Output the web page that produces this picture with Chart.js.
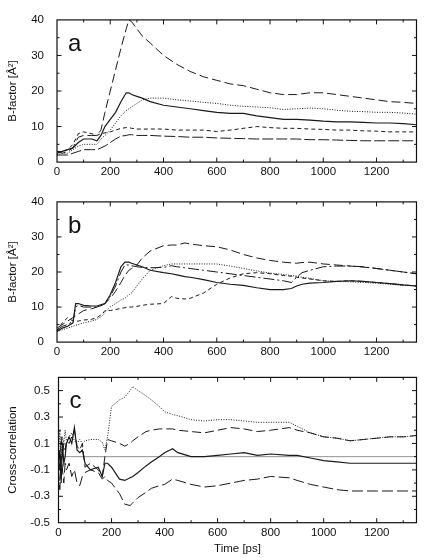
<!DOCTYPE html>
<html>
<head>
<meta charset="utf-8">
<script src="https://cdn.jsdelivr.net/npm/chart.js@4.4.1/dist/chart.umd.min.js"></script>
<style>
	html, body { margin: 0; padding: 0; background: #fff; }
	#wrap { position: relative; width: 426px; height: 558px; }
	canvas { position: absolute; left: 0; }
</style>
</head>
<body>
<div id="wrap">
	<canvas id="panel-a" width="426" height="182" style="top:0px"></canvas>
	<canvas id="panel-b" width="426" height="180" style="top:182px"></canvas>
	<canvas id="panel-c" width="426" height="196" style="top:362px"></canvas>
</div>
<script>
// panel a: B-factor of five atoms
const timeA = [0, 20, 40, 60, 80, 100, 130, 150, 165, 180, 200, 220, 240, 260, 270, 280, 300, 320, 350, 400,
	450, 500, 550, 600, 650, 700, 750, 800, 850, 900, 950, 1000, 1050, 1100, 1150, 1200, 1250, 1300, 1350];
const aLongDash = [3, 2.5, 3, 4, 7, 7.5, 7.5, 7.5, 9, 14, 20, 26, 32, 37.5, 40, 39.5, 37.5, 35.5, 33.5, 30,
	27.5, 25.5, 24, 23, 22, 21.5, 20.5, 19.5, 19, 19, 19.5, 19.5, 19, 18.5, 18, 17.5, 17, 16.8, 16.5];
const aSolid = [2.5, 3, 3.5, 4, 5.5, 6.5, 6.5, 6, 7.5, 10, 12, 14, 17, 19.5, 19.5, 19, 18.5, 18, 17, 16,
	15.5, 15, 14.5, 14, 13.7, 13.7, 13, 12.5, 12, 12, 11.8, 11.5, 11.3, 11.3, 11.2, 11, 11, 10.8, 10.5];
const aDotted = [2, 2.5, 2.5, 3.5, 4.5, 5, 5, 5, 6.5, 7.5, 9, 11, 13, 14.5, 15, 15.5, 16.5, 17.5, 18, 18,
	17.5, 17.2, 16.8, 16.5, 16, 15.7, 15.5, 15.3, 14.8, 15, 15.2, 15, 14.6, 14.3, 14.2, 14, 14, 13.8, 13.5];
const aShortDash = [3, 3, 3.5, 5, 8, 8.5, 8, 7.5, 8, 8.2, 8.5, 9, 9.5, 9.7, 9.7, 9.5, 9.3, 9.3, 9.3, 9.3,
	9, 9, 9, 8.6, 9, 9.5, 10, 9.7, 9.5, 9.5, 9.3, 9.2, 9, 9, 8.8, 8.7, 8.5, 8.5, 8.5];
const aLowDash = [2, 2, 2, 2.5, 3, 3.5, 3.5, 3.5, 4, 4.5, 5.5, 6.5, 7.3, 7.5, 7.7, 7.7, 7.5, 7.5, 7.5, 7.3,
	7.2, 7, 7, 6.8, 6.7, 6.6, 6.5, 6.5, 6.5, 6.5, 6.3, 6.3, 6.2, 6.1, 6, 6, 6, 6, 6];

// panel b
const timeB = [0, 20, 40, 60, 70, 80, 100, 130, 150, 170, 180, 200, 220, 240, 255, 270, 280, 300, 320, 350,
	400, 430, 450, 480, 500, 550, 600, 650, 700, 750, 800, 850, 880, 900, 920, 950, 1000, 1050, 1100, 1150,
	1200, 1250, 1300, 1350];
const bLongDash = [4, 5, 6, 7, 7.5, 8, 9, 9.5, 10, 10.5, 11, 12.5, 14.5, 17, 19, 20.5, 21, 22, 24, 26,
	27.5, 27.7, 27.7, 28.3, 28, 27.5, 27.2, 26.3, 25, 24, 23.3, 22.8, 22.6, 22.5, 22.7, 22.8, 22.3, 22, 21.7, 21.4,
	21, 20.5, 20, 19.5];
const bSolid = [3, 4, 4.5, 5.5, 11, 11, 10.5, 10.3, 10.3, 10.8, 11, 13.5, 17, 21.5, 22.8, 22.8, 22.5, 22, 21.5, 20.5,
	19.8, 19.5, 19.2, 18.7, 18.5, 17.8, 17, 16.5, 16.2, 15.5, 15, 15, 15.3, 16, 16.5, 16.8, 17, 17.3, 17.5, 17.3,
	17, 16.7, 16.3, 16];
const bDotted = [3, 3.5, 4, 4.5, 4.8, 5, 5.5, 6, 6.5, 7.5, 8.5, 10, 11, 12, 12.5, 13.5, 14, 16, 18, 20.5,
	21.8, 22.3, 22.3, 22.3, 22.3, 22.3, 22.3, 21.7, 21, 20.3, 19.7, 19.3, 19, 18.8, 18.5, 18.2, 17.5, 17.3, 17.2, 17,
	16.8, 16.5, 16.2, 16];
const bDashDot = [3.5, 4.5, 5, 6, 10, 10.5, 10, 10, 10, 10.5, 11, 13, 16, 20, 22, 22, 21.8, 21.5, 21.3, 21.2,
	21.3, 21.8, 21.5, 21.2, 21, 20.5, 20, 19.5, 19, 18.5, 18, 17.5, 17, 18.5, 19.8, 20.5, 21.5, 21.7, 21.7, 21.5,
	21, 20.5, 20, 19.5];
const bShortDash = [3, 5.5, 7, 6, 6, 6, 6.3, 6.5, 7, 8, 9, 9, 9.3, 9.6, 9.8, 10, 10, 10.2, 10.5, 10.8,
	11, 13, 12.5, 12.3, 12.5, 14, 16.5, 18.3, 19.5, 19.8, 19.5, 19, 18.8, 18.5, 18.3, 18, 17.5, 17.3, 17.5, 17.3,
	17, 16.7, 16.3, 16];

// panel c: cross-correlation
const timeC = [0, 5, 10, 15, 20, 25, 30, 40, 50, 60, 70, 80, 90, 100, 120, 150, 165, 175, 185, 200,
	230, 250, 270, 280, 300, 330, 350, 380, 400, 430, 450, 500, 550, 600, 650, 700, 750, 800, 870, 900,
	950, 1000, 1050, 1100, 1150, 1200, 1250, 1300, 1350];
const cDotted = [0, 0.2, -0.05, 0.15, 0.1, 0.2, 0.12, 0.15, 0.18, 0.12, 0.1, 0.13, 0.1, 0.12, 0.13, 0.13, 0.11, 0.05, 0.15, 0.38,
	0.43, 0.45, 0.5, 0.53, 0.5, 0.46, 0.43, 0.38, 0.34, 0.32, 0.31, 0.28, 0.27, 0.28, 0.28, 0.27, 0.26, 0.26, 0.26, 0.23,
	0.18, 0.15, 0.14, 0.12, 0.13, 0.14, 0.15, 0.15, 0.16];
const cDashed = [0.05, -0.1, 0.15, 0, 0.1, 0.05, 0.12, 0.1, 0.15, 0.2, 0.08, 0.05, 0.1, -0.08, -0.05, -0.1, -0.15, 0, 0.13, 0.12,
	0.1, 0.08, 0.1, 0.12, 0.15, 0.19, 0.2, 0.21, 0.21, 0.21, 0.2, 0.19, 0.18, 0.2, 0.22, 0.21, 0.19, 0.2, 0.22, 0.2,
	0.18, 0.15, 0.14, 0.12, 0.13, 0.14, 0.15, 0.15, 0.16];
const cSolid = [-0.05, 0.05, -0.2, 0.1, -0.05, 0, 0.1, 0.15, 0.1, 0.22, 0.05, 0.03, 0.05, -0.05, -0.1, -0.08, -0.15, -0.05, -0.05, -0.08,
	-0.17, -0.18, -0.16, -0.15, -0.12, -0.07, -0.04, 0, 0.03, 0.06, 0.03, 0, 0, 0.01, 0.02, 0.03, 0.01, 0.02, 0.01, 0.01,
	-0.01, -0.03, -0.04, -0.05, -0.05, -0.05, -0.05, -0.05, -0.05];
const cLowDash = [-0.1, -0.25, 0, -0.1, -0.2, -0.05, -0.1, -0.05, -0.15, -0.1, -0.2, -0.22, -0.15, -0.12, -0.1, -0.12, -0.17, -0.15, -0.18, -0.2,
	-0.28, -0.36, -0.37, -0.35, -0.31, -0.27, -0.24, -0.22, -0.21, -0.17, -0.18, -0.21, -0.23, -0.22, -0.2, -0.18, -0.17, -0.15, -0.16, -0.18,
	-0.21, -0.23, -0.25, -0.26, -0.26, -0.26, -0.26, -0.26, -0.26];
const zeroTime = [0, 1350];
const zeroLine = [0, 0];

// ticks
const timeTicks = [0, 200, 400, 600, 800, 1000, 1200];
const bfactorTicks = [0, 10, 20, 30, 40];
const corrTicks = [-0.5, -0.3, -0.1, 0.1, 0.3, 0.5];
const panelLetters = ["a", "b", "c"];

Chart.defaults.font.family = "'Liberation Sans', Arial, sans-serif";
Chart.defaults.color = "#111";

const pts = (t, v) => t.map((x, i) => ({ x: x, y: v[i] }));

function line(t, v, dash, width) {
	return {
		data: pts(t, v),
		borderColor: "#1a1a1a",
		borderWidth: width || 1,
		borderDash: dash,
		pointRadius: 0,
		tension: 0,
		fill: false,
	};
}

// frame with inward tics on all four sides, plus the panel letter
const framePlugin = {
	id: "frame",
	afterDatasetsDraw(chart, args, opts) {
		const { ctx, chartArea: a, scales } = chart;
		ctx.save();
		ctx.strokeStyle = "#111";
		ctx.lineWidth = 1.2;
		ctx.strokeRect(a.left, a.top, a.right - a.left, a.bottom - a.top);
		ctx.lineWidth = 1;
		ctx.beginPath();
		const tics = (scale, step, horiz) => {
			const n = Math.round((scale.max - scale.min) / step);
			for (let i = 1; i < n; i++) {
				const v = scale.min + i * step;
				const major = scale.ticks.some((t) => Math.abs(t.value - v) < step / 10);
				const len = major ? 4.5 : 2.5;
				const p = scale.getPixelForValue(v);
				if (horiz) {
					ctx.moveTo(p, a.bottom); ctx.lineTo(p, a.bottom - len);
					ctx.moveTo(p, a.top); ctx.lineTo(p, a.top + len);
				} else {
					ctx.moveTo(a.left, p); ctx.lineTo(a.left + len, p);
					ctx.moveTo(a.right, p); ctx.lineTo(a.right - len, p);
				}
			}
		};
		tics(scales.x, opts.xStep, true);
		tics(scales.y, opts.yStep, false);
		ctx.stroke();
		ctx.fillStyle = "#111";
		ctx.font = "24px 'Liberation Sans', Arial, sans-serif";
		ctx.textBaseline = "alphabetic";
		ctx.fillText(opts.letter, a.left + 11, a.top + 31);
		ctx.restore();
	},
};

function makePanel(id, datasets, cfg) {
	return new Chart(document.getElementById(id), {
		type: "line",
		data: { datasets: datasets },
		plugins: [framePlugin],
		options: {
			responsive: false,
			animation: false,
			devicePixelRatio: 1,
			layout: { padding: { top: cfg.top, right: 9.5, left: 0, bottom: 0 } },
			plugins: {
				legend: { display: false },
				tooltip: { enabled: false },
				frame: { xStep: 100, yStep: cfg.yStep, letter: cfg.letter },
			},
			scales: {
				x: {
					type: "linear",
					min: 0,
					max: 1350,
					grid: { display: false, drawTicks: false },
					border: { display: false },
					afterBuildTicks: (s) => { s.ticks = timeTicks.map((v) => ({ value: v })); },
					afterFit: (s) => { s.height = cfg.xHeight; },
					ticks: {
						padding: 3,
						maxRotation: 0,
						font: { size: 11.5 },
						callback: (v) => String(v),
					},
					title: cfg.xTitle
						? { display: true, text: cfg.xTitle, font: { size: 11.5 }, padding: { top: 0, bottom: 2 } }
						: { display: false },
				},
				y: {
					type: "linear",
					min: cfg.yMin,
					max: cfg.yMax,
					grid: { display: false, drawTicks: false },
					border: { display: false },
					afterBuildTicks: (s) => { s.ticks = cfg.yTicks.map((v) => ({ value: v })); },
					afterFit: (s) => { s.width = cfg.left; },
					ticks: {
						padding: cfg.yPad,
						font: { size: 11.5 },
						callback: (v) => String(v),
					},
					title: { display: true, text: cfg.yTitle, font: { size: 11.5 }, padding: { top: 6, bottom: 0 } },
				},
			},
		},
	});
}

makePanel("panel-a", [
	line(timeA, aLongDash, [9, 4]),
	line(timeA, aSolid, [], 1.2),
	line(timeA, aDotted, [1, 1.5]),
	line(timeA, aShortDash, [4, 3]),
	line(timeA, aLowDash, [11, 3]),
], {
	top: 14, xHeight: 18, left: 57, yPad: 13, yMin: 0, yMax: 40, yStep: 5,
	yTicks: bfactorTicks, yTitle: "B-factor [Å²]", letter: panelLetters[0],
});

makePanel("panel-b", [
	line(timeB, bLongDash, [9, 4]),
	line(timeB, bSolid, [], 1.2),
	line(timeB, bDotted, [1, 1.5]),
	line(timeB, bDashDot, [11, 3, 2, 3]),
	line(timeB, bShortDash, [4, 3]),
], {
	top: 12, xHeight: 19, left: 57, yPad: 13, yMin: 0, yMax: 40, yStep: 5,
	yTicks: bfactorTicks, yTitle: "B-factor [Å²]", letter: panelLetters[1],
});

makePanel("panel-c", [
	line(timeC, cDotted, [1, 1.5]),
	line(timeC, cDashed, [9, 4]),
	line(timeC, cSolid, [], 1.2),
	line(timeC, cLowDash, [11, 4]),
	{ ...line(zeroTime, zeroLine, [], 0.8), borderColor: "#777" },
], {
	top: 10.5, xHeight: 35.3, left: 58.5, yPad: 8.5, yMin: -0.5, yMax: 0.6, yStep: 0.1,
	yTicks: corrTicks, yTitle: "Cross-correlation", xTitle: "Time [ps]", letter: panelLetters[2],
});
</script>
</body>
</html>
